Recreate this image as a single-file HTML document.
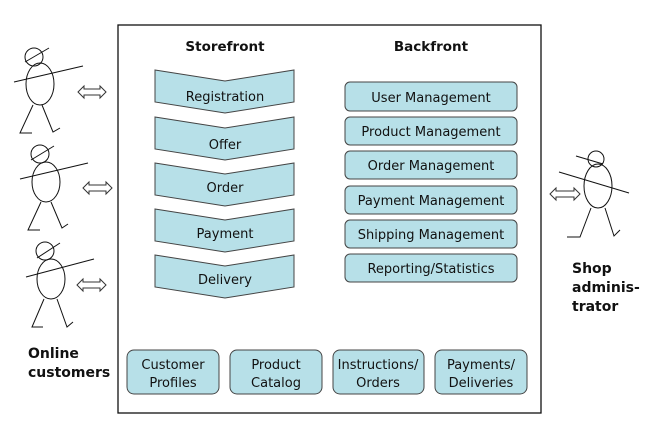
<!DOCTYPE html>
<html><head><meta charset="utf-8"><style>
html,body{margin:0;padding:0;background:#fff;}
svg{display:block;}
text{font-family:"DejaVu Sans","Liberation Sans",sans-serif;fill:#111;}
</style></head><body>
<svg width="654" height="427" viewBox="0 0 654 427" xmlns="http://www.w3.org/2000/svg">
<rect x="118" y="25" width="423" height="388" fill="#fff" stroke="#111" stroke-width="1.3"/>
<text x="225" y="51" font-size="13.5" font-weight="bold" text-anchor="middle">Storefront</text>
<text x="431" y="51" font-size="13.5" font-weight="bold" text-anchor="middle">Backfront</text>
<g fill="#b7e0e8" stroke="#444" stroke-width="1">
<polygon points="155,70 225,81 294,70 294,102 225,113 155,102"/>
<polygon points="155,117 225,128 294,117 294,149 225,160 155,149"/>
<polygon points="155,163 225,174 294,163 294,195 225,206 155,195"/>
<polygon points="155,209 225,220 294,209 294,241 225,252 155,241"/>
<polygon points="155,255 225,266 294,255 294,287 225,298 155,287"/>
<rect x="345" y="82" width="172" height="29" rx="5"/>
<rect x="345" y="117" width="172" height="28" rx="5"/>
<rect x="345" y="151" width="172" height="28" rx="5"/>
<rect x="345" y="186" width="172" height="28" rx="5"/>
<rect x="345" y="220" width="172" height="28" rx="5"/>
<rect x="345" y="254" width="172" height="28" rx="5"/>
<rect x="127" y="350" width="92" height="44" rx="7"/>
<rect x="230" y="350" width="92" height="44" rx="7"/>
<rect x="333" y="350" width="91" height="44" rx="7"/>
<rect x="435" y="350" width="92" height="44" rx="7"/>
</g>
<g font-size="13" text-anchor="middle">
<text x="225" y="101">Registration</text>
<text x="225" y="149">Offer</text>
<text x="225" y="192">Order</text>
<text x="225" y="238">Payment</text>
<text x="225" y="284">Delivery</text>
<text x="431" y="102">User Management</text>
<text x="431" y="136">Product Management</text>
<text x="431" y="170">Order Management</text>
<text x="431" y="205">Payment Management</text>
<text x="431" y="239">Shipping Management</text>
<text x="431" y="273">Reporting/Statistics</text>
<text x="173" y="369">Customer</text><text x="173" y="387">Profiles</text>
<text x="276" y="369">Product</text><text x="276" y="387">Catalog</text>
<text x="378" y="369">Instructions/</text><text x="378" y="387">Orders</text>
<text x="481" y="369">Payments/</text><text x="481" y="387">Deliveries</text>
</g>
<g fill="none" stroke="#111" stroke-width="1">
<!-- fig1 -->
<circle cx="34" cy="57" r="9"/><line x1="25" y1="62" x2="49" y2="48"/>
<ellipse cx="40" cy="84" rx="14" ry="21"/><line x1="14" y1="82" x2="83" y2="66"/>
<polyline points="33,105 20,133 32,133"/><polyline points="42,105 53,132 60,128"/>
<!-- fig2 -->
<circle cx="40" cy="154" r="9"/><line x1="31" y1="160" x2="54" y2="146"/>
<ellipse cx="46" cy="182" rx="14" ry="20"/><line x1="20" y1="179" x2="88" y2="163"/>
<polyline points="41,202 28,230 40,230"/><polyline points="51,202 62,228 68,224"/>
<!-- fig3 -->
<circle cx="45" cy="251" r="9"/><line x1="37" y1="258" x2="60" y2="243"/>
<ellipse cx="51" cy="279" rx="14" ry="20"/><line x1="26" y1="277" x2="94" y2="259"/>
<polyline points="44,299 32,327 43,327"/><polyline points="57,299 67,327 73,322"/>
<!-- admin -->
<circle cx="596" cy="159" r="8"/><line x1="576" y1="156" x2="603" y2="164"/>
<ellipse cx="598" cy="186" rx="14" ry="22"/><line x1="559" y1="172" x2="629" y2="193"/>
<polyline points="591,208 580,237 567,237"/><polyline points="605,208 614,236 620,230"/>
</g>
<g fill="#fff" stroke="#333" stroke-width="1">
<polygon points="78,92 84,86 84,89 100,89 100,86 106,92 100,98 100,95 84,95 84,98"/>
<polygon points="83,188 89,182 89,185 106,185 106,182 112,188 106,194 106,191 89,191 89,194"/>
<polygon points="77,285 83,279 83,282 100,282 100,279 106,285 100,291 100,288 83,288 83,291"/>
<polygon points="550,194 556,188 556,191 574,191 574,188 580,194 574,200 574,197 556,197 556,200"/>
</g>
<g font-size="14" font-weight="bold">
<text x="28" y="358">Online</text><text x="28" y="377">customers</text>
<text x="572" y="273">Shop</text><text x="572" y="292">adminis-</text><text x="572" y="311">trator</text>
</g>
</svg>
</body></html>
